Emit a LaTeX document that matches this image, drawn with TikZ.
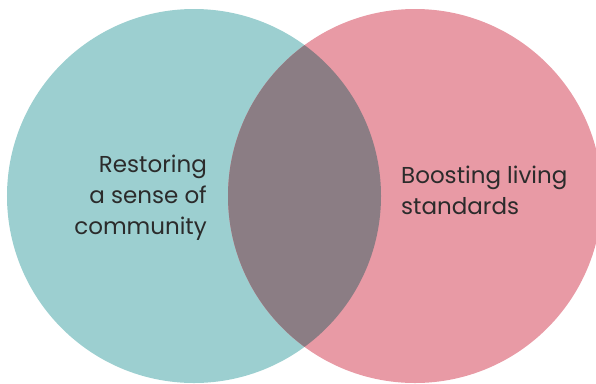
\documentclass[tikz,border=0pt]{standalone}
\usepackage{fontspec}
\setmainfont{Poppins}
\usetikzlibrary{positioning}
\definecolor{tealset}{HTML}{9CCFD0}
\definecolor{pinkset}{HTML}{E89AA5}
\definecolor{overlapset}{HTML}{8B7D84}
\definecolor{labeltext}{HTML}{2B2B2B}

\begin{document}
\begin{tikzpicture}[
        x=1bp, y=-1bp,
        set/.style={circle, minimum size=374bp, inner sep=0pt},
        label/.style={font=\fontsize{23bp}{31bp}\selectfont, text=labeltext, inner sep=0pt},
    ]
        % Frame
        \useasboundingbox (0,0) rectangle (596,383);
        \begin{scope}
            \clip (0,0) rectangle (596,383);

            % Sets
            \node[set, fill=tealset] (community) at (194,196) {};
            \node[set, fill=pinkset] (living) at (415,196) {};

            % Intersection
            \begin{scope}
                \clip (community.center) circle (187bp);
                \fill[overlapset] (living.center) circle (187bp);
            \end{scope}
        \end{scope}

        % Labels
        \node[label, align=right, anchor=east] (communitytext) at (207,198) {Restoring\\a sense of\\community};
        \node[label, align=left, anchor=west] (livingtext) at (401,190) {Boosting living\\standards};
    \end{tikzpicture}
\end{document}
